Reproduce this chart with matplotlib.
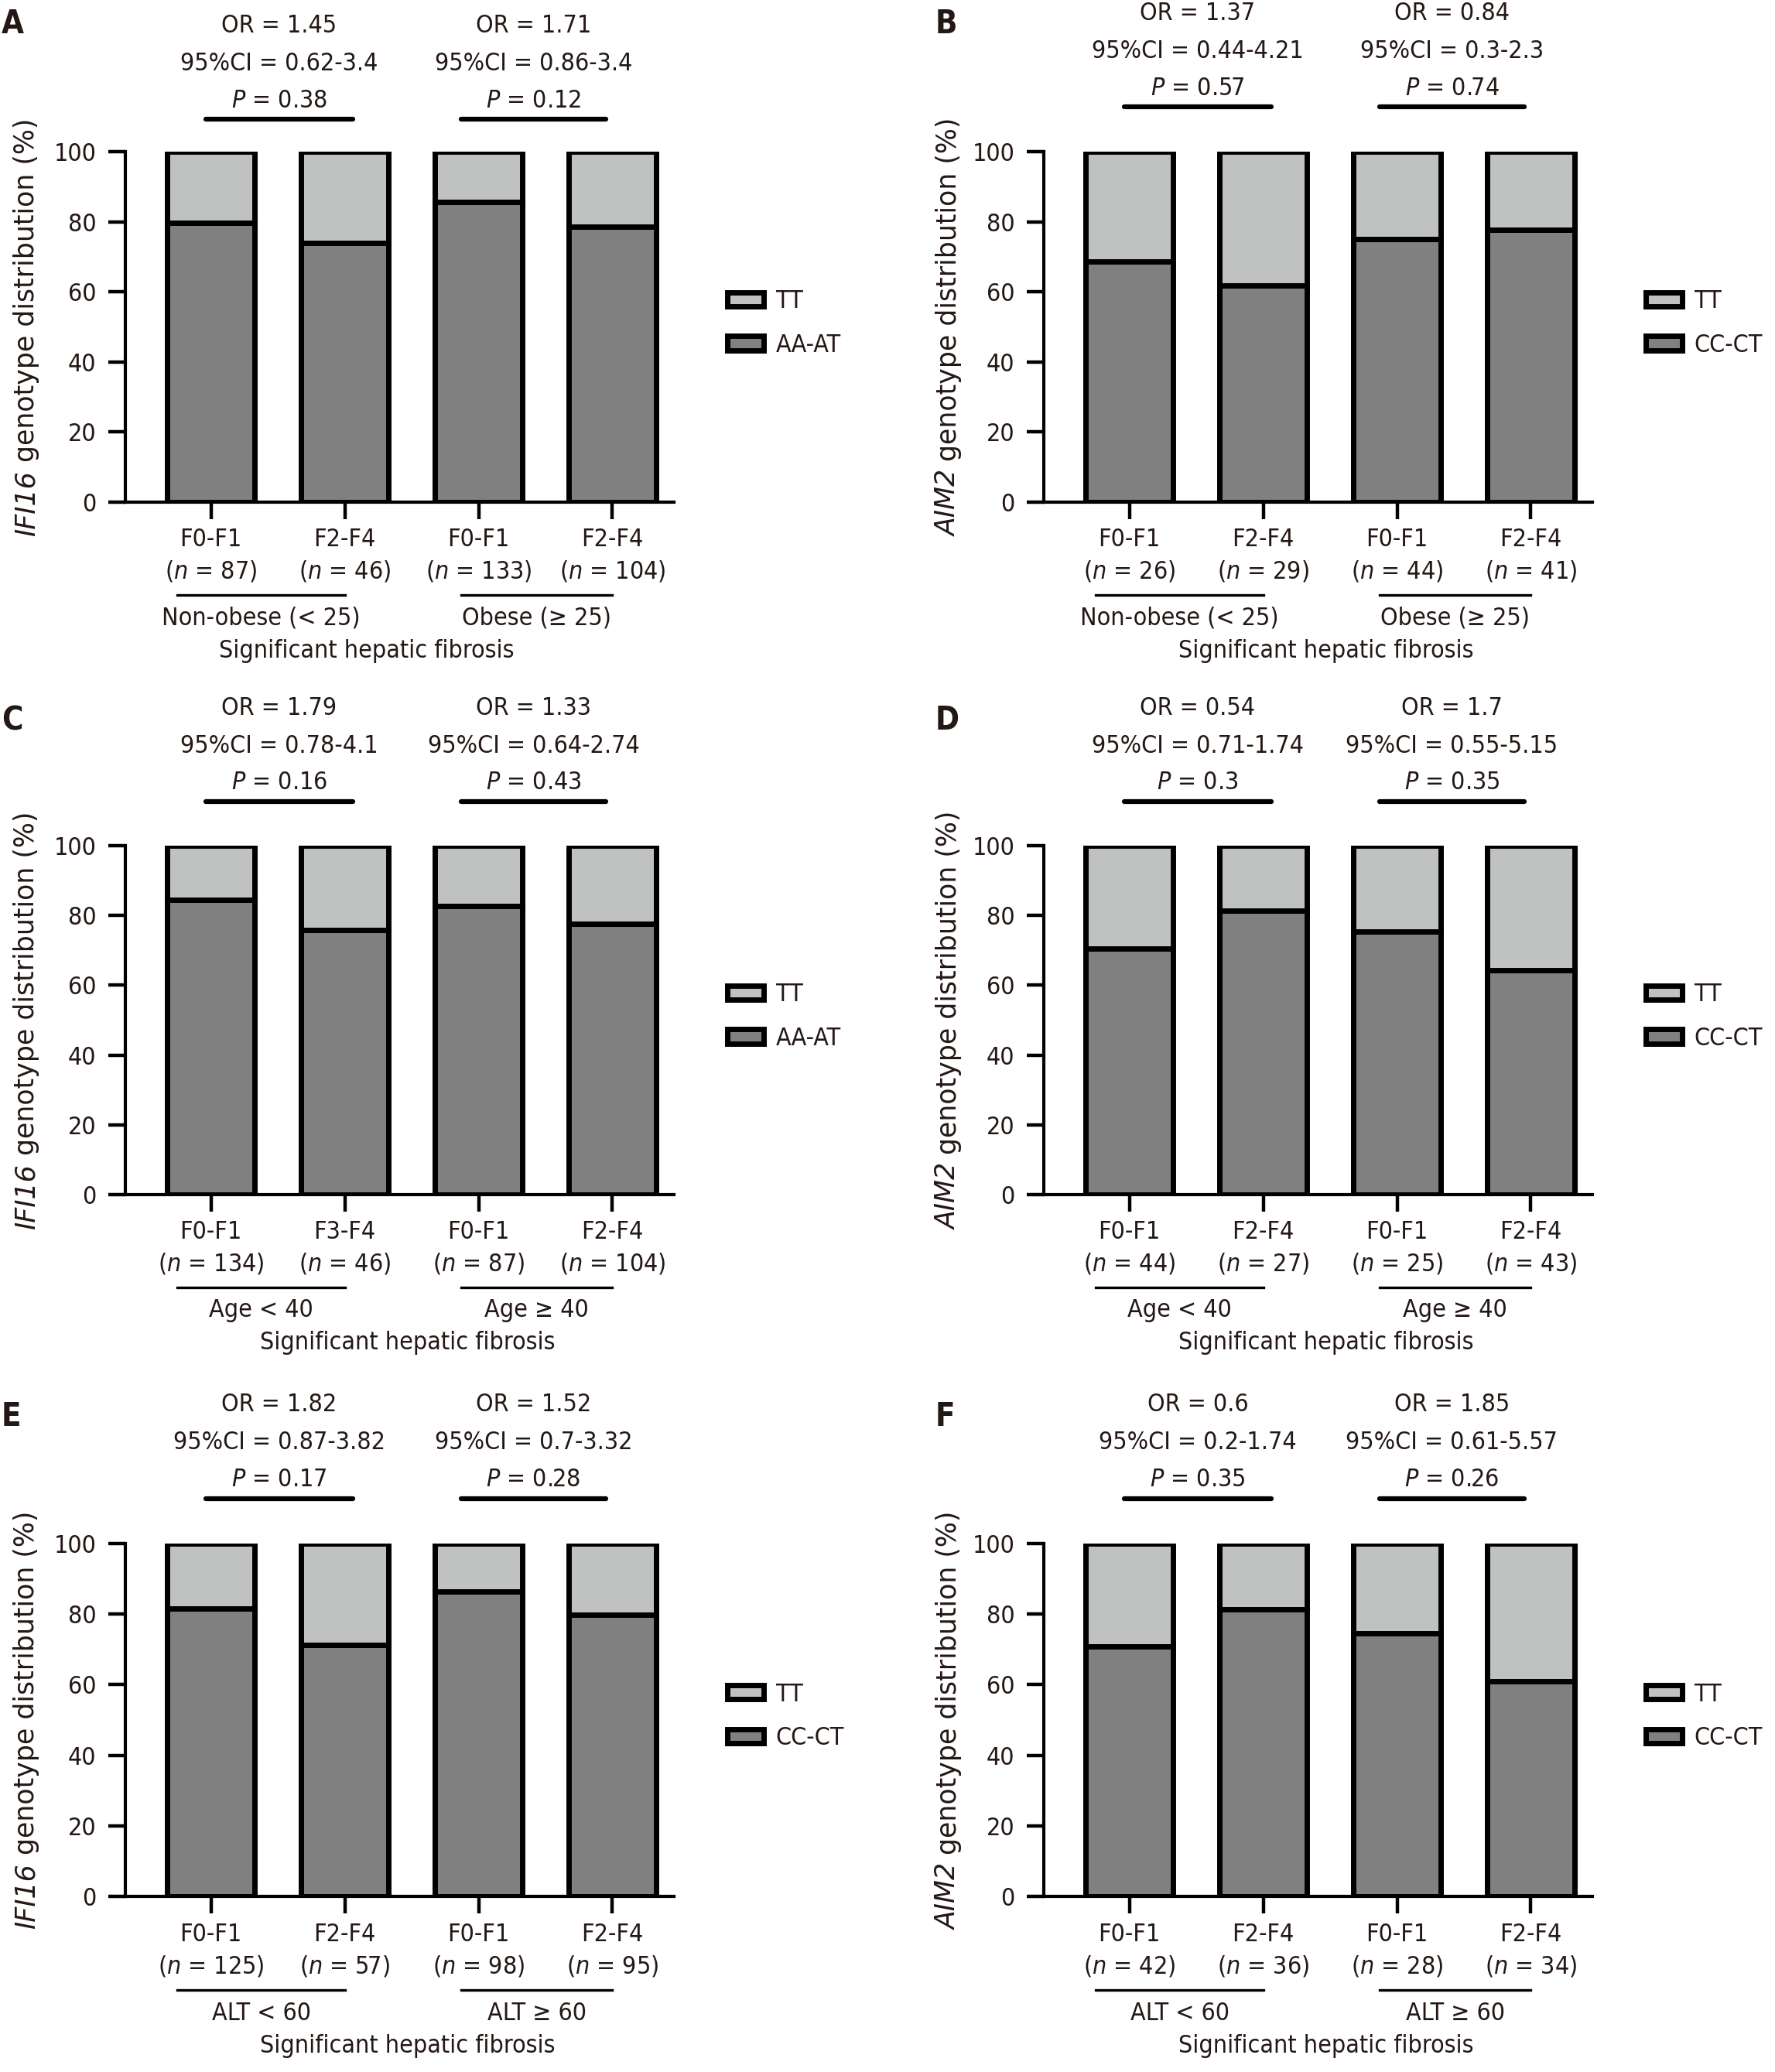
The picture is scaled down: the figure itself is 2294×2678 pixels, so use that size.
import matplotlib
matplotlib.use('Agg')
import matplotlib.pyplot as plt
from matplotlib import font_manager
from matplotlib.patches import Patch
import matplotlib.transforms as mtransforms

# prefer a condensed face for the body text, like the original figure
cond_files = [f for f in font_manager.fontManager.ttflist
              if 'Condensed' in f.fname or 'Narrow' in f.name]
has_dejavu_cond = any('DejaVuSansCondensed' in f.fname for f in cond_files)
if has_dejavu_cond:
    BODY = dict(family='DejaVu Sans', fontstretch='condensed')
elif any(f.name == 'Liberation Sans Narrow' for f in cond_files):
    BODY = dict(family='Liberation Sans Narrow')
else:
    BODY = dict(family='DejaVu Sans', fontstretch='condensed')
plt.rcParams['font.family'] = [BODY['family'], 'DejaVu Sans']
if 'fontstretch' in BODY:
    plt.rcParams['font.stretch'] = 'condensed'
plt.rcParams['mathtext.fontset'] = 'custom'
plt.rcParams['mathtext.it'] = BODY['family'] + ':italic'
plt.rcParams['mathtext.rm'] = BODY['family']
TXT = '#231815'
plt.rcParams['text.color'] = TXT
plt.rcParams['xtick.color'] = 'black'
plt.rcParams['ytick.color'] = 'black'
plt.rcParams['xtick.labelcolor'] = TXT
plt.rcParams['ytick.labelcolor'] = TXT

# ---- data ----
panels = ['A', 'B', 'C', 'D', 'E', 'F']
genes = ['IFI16', 'AIM2', 'IFI16', 'AIM2', 'IFI16', 'AIM2']
low_names = ['AA-AT', 'CC-CT', 'AA-AT', 'CC-CT', 'CC-CT', 'CC-CT']
stages = [
    ['F0-F1', 'F2-F4', 'F0-F1', 'F2-F4'],
    ['F0-F1', 'F2-F4', 'F0-F1', 'F2-F4'],
    ['F0-F1', 'F3-F4', 'F0-F1', 'F2-F4'],
    ['F0-F1', 'F2-F4', 'F0-F1', 'F2-F4'],
    ['F0-F1', 'F2-F4', 'F0-F1', 'F2-F4'],
    ['F0-F1', 'F2-F4', 'F0-F1', 'F2-F4'],
]
n_values = [
    [87, 46, 133, 104],
    [26, 29, 44, 41],
    [134, 46, 87, 104],
    [44, 27, 25, 43],
    [125, 57, 98, 95],
    [42, 36, 28, 34],
]
# percentage of the lower (dark) genotype group
low_pct = [
    [79.6, 74.0, 85.7, 78.5],
    [68.7, 61.9, 75.1, 77.7],
    [84.5, 75.8, 82.6, 77.7],
    [70.5, 81.4, 75.4, 64.4],
    [81.6, 71.2, 86.5, 79.8],
    [70.8, 81.3, 74.5, 61.0],
]
groups = [
    ['Non-obese (< 25)', 'Obese (≥ 25)'],
    ['Non-obese (< 25)', 'Obese (≥ 25)'],
    ['Age < 40', 'Age ≥ 40'],
    ['Age < 40', 'Age ≥ 40'],
    ['ALT < 60', 'ALT ≥ 60'],
    ['ALT < 60', 'ALT ≥ 60'],
]
or_vals = [['1.45', '1.71'], ['1.37', '0.84'], ['1.79', '1.33'],
           ['0.54', '1.7'], ['1.82', '1.52'], ['0.6', '1.85']]
ci_vals = [['0.62-3.4', '0.86-3.4'], ['0.44-4.21', '0.3-2.3'], ['0.78-4.1', '0.64-2.74'],
           ['0.71-1.74', '0.55-5.15'], ['0.87-3.82', '0.7-3.32'], ['0.2-1.74', '0.61-5.57']]
p_vals = [['0.38', '0.12'], ['0.57', '0.74'], ['0.16', '0.43'],
          ['0.3', '0.35'], ['0.17', '0.28'], ['0.35', '0.26']]

DARK = '#808080'
LIGHT = '#c0c2c1'
W, H = 2294, 2678
FS = 23

fig = plt.figure(figsize=(W / 100, H / 100), dpi=100)
renderer = fig.canvas.get_renderer()

# axes boxes in pixels: (left, right, y0 pixel, y100 pixel)
col_x = [(162, 871), (1349, 2058)]
row_y = [(649, 196), (1544, 1093), (2451, 1995)]
letter_pos = [(2, 31), (1209, 31), (2, 931), (1209, 931), (2, 1831), (1209, 1831)]
ylab_x = [-0.166, -0.159]
top_shift = {'A': -0.035}
sig_x = {'A': 1.16}

xs = [0, 1, 2, 3]
for k, name in enumerate(panels):
    r, c = divmod(k, 2)
    xl, xr = col_x[c]
    yb, yt = row_y[r]
    ax = fig.add_axes([xl / W, 1 - yb / H, (xr - xl) / W, (yb - yt) / H])

    low = low_pct[k]
    high = [100 - v for v in low]
    ax.bar(xs, low, width=0.65, color=DARK, edgecolor='black', linewidth=5, zorder=2)
    ax.bar(xs, high, bottom=low, width=0.65, color=LIGHT, edgecolor='black', linewidth=5, zorder=2)

    ax.set_xlim(-0.64, 3.46)
    ax.set_ylim(0, 100)
    ax.set_yticks([0, 20, 40, 60, 80, 100])
    ax.set_xticks(xs)
    ax.set_xticklabels([])
    for s in ['top', 'right']:
        ax.spines[s].set_visible(False)
    for s in ['left', 'bottom']:
        ax.spines[s].set_linewidth(3)
    ax.tick_params(axis='y', direction='out', length=16, width=3.2, labelsize=FS, pad=11)
    ax.tick_params(axis='x', direction='out', length=16, width=3.2)

    # y label: italic gene name followed by upright text
    t1 = ax.text(ylab_x[c], 0.5, genes[k], rotation=90, rotation_mode='anchor',
                 ha='left', va='baseline', fontsize=25, family='DejaVu Sans',
                 style='italic', fontstretch='normal', transform=ax.transAxes)
    t2 = ax.text(ylab_x[c], 0.5, ' genotype distribution (%)', rotation=90,
                 rotation_mode='anchor', ha='left', va='baseline', fontsize=25,
                 family='DejaVu Sans', fontstretch='normal', transform=ax.transAxes)
    L1 = t1.get_window_extent(renderer).height
    L2 = t2.get_window_extent(renderer).height
    axh = ax.bbox.height
    y0 = 0.5 - (L1 + L2) / 2 / axh
    t1.set_position((ylab_x[c], y0))
    t2.set_position((ylab_x[c], y0 + L1 / axh))

    trans = mtransforms.blended_transform_factory(ax.transData, ax.transAxes)
    # stats above
    ts = top_shift.get(name, 0)
    for g, xc in enumerate([0.51, 2.41]):
        ax.text(xc, 1.393 + ts, f'OR = {or_vals[k][g]}', transform=trans,
                ha='center', va='center', fontsize=FS)
        ax.text(xc, 1.286 + ts, f'95%CI = {ci_vals[k][g]}', transform=trans,
                ha='center', va='center', fontsize=FS)
        ax.text(xc, 1.180 + ts, f'$\\mathit{{P}}$ = {p_vals[k][g]}', transform=trans,
                ha='center', va='center', fontsize=FS)
        x0, x1 = (-0.04, 1.06) if g == 0 else (1.87, 2.95)
        ax.plot([x0, x1], [1.127 + ts, 1.127 + ts], transform=trans, color='black',
                lw=4.5, solid_capstyle='round', clip_on=False)

    # labels below
    for i in xs:
        ax.text(i, -0.108, stages[k][i], transform=trans, ha='center', va='center', fontsize=FS)
        ax.text(i, -0.198, f'($\\mathit{{n}}$ = {n_values[k][i]})', transform=trans,
                ha='center', va='center', fontsize=FS)
    for g, (x0, x1) in enumerate([(-0.25, 1.0), (1.87, 3.0)]):
        ax.plot([x0, x1], [-0.266, -0.266], transform=trans, color='black', lw=2.4, clip_on=False)
        ax.text((x0 + x1) / 2, -0.332, groups[k][g], transform=trans,
                ha='center', va='center', fontsize=FS)
    ax.text(sig_x.get(name, 1.47), -0.425, 'Significant hepatic fibrosis', transform=trans,
            ha='center', va='center', fontsize=FS)

    handles = [Patch(facecolor=LIGHT, edgecolor='black', linewidth=5, label='TT'),
               Patch(facecolor=DARK, edgecolor='black', linewidth=5, label=low_names[k])]
    ax.legend(handles=handles, loc='center left', bbox_to_anchor=(1.08, 0.51),
              frameon=False, fontsize=FS, handlelength=1.45, handleheight=0.5,
              labelspacing=0.8, handletextpad=0.5, borderaxespad=0)

    lx, ly = letter_pos[k]
    fig.text(lx / W, 1 - ly / H, name, fontsize=30, fontweight='bold',
             ha='left', va='center', color=TXT)

fig.savefig('out.png', dpi=100, facecolor='white')
